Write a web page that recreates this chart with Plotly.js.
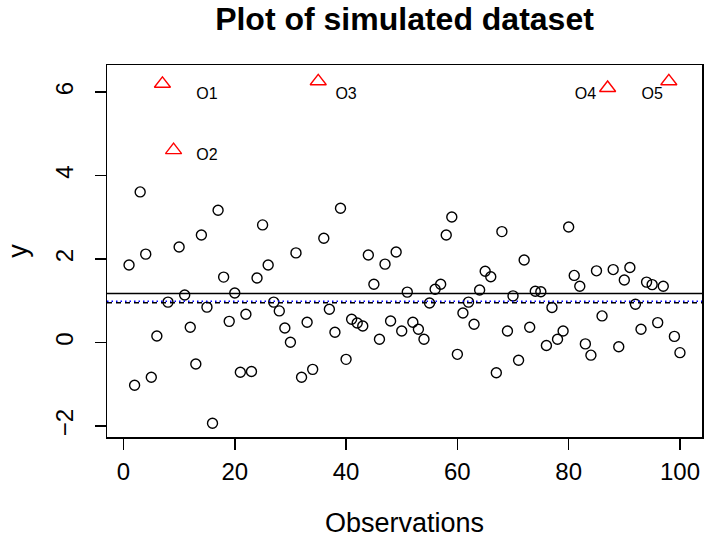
<!DOCTYPE html>
<html>
<head>
<meta charset="utf-8">
<script src="https://cdn.plot.ly/plotly-3.0.1.min.js"></script>
<style>html,body{margin:0;padding:0;background:#fff;}#chart{width:705px;height:541px;}</style>
</head>
<body>
<div id="chart"></div>
<script>
// Observation values (index 1..100)
var yValues = [
  1.86, -1.02, 3.61, 2.12, -0.83, 0.16, 6.20, 0.97, 4.61, 2.29,
  1.14, 0.37, -0.51, 2.58, 0.85, -1.93, 3.17, 1.57, 0.51, 1.19,
  -0.71, 0.68, -0.69, 1.55, 2.82, 1.86, 0.97, 0.76, 0.35, 0.01,
  2.15, -0.83, 0.49, -0.64, 6.26, 2.50, 0.80, 0.25, 3.22, -0.40,
  0.56, 0.47, 0.40, 2.10, 1.40, 0.08, 1.88, 0.52, 2.17, 0.28,
  1.21, 0.49, 0.32, 0.08, 0.95, 1.28, 1.40, 2.58, 3.01, -0.28,
  0.71, 0.97, 0.44, 1.26, 1.71, 1.58, -0.72, 2.66, 0.28, 1.12,
  -0.42, 1.98, 0.37, 1.23, 1.22, -0.07, 0.84, 0.08, 0.28, 2.77,
  1.61, 1.35, -0.03, -0.30, 1.72, 0.64, 6.10, 1.75, -0.10, 1.50,
  1.80, 0.92, 0.32, 1.45, 1.39, 0.48, 1.35, 6.26, 0.15, -0.24
];
// Outlier observation indices
var outlierIdx = [7, 9, 35, 87, 98];
// Outlier labels and their text positions
var labelText = ["O1", "O2", "O3", "O4", "O5"];
var labelX = [15, 15, 40, 83, 95];
var labelY = [5.92, 4.46, 5.92, 5.92, 5.92];
// Horizontal reference lines: solid, dotted (blue), dashed
var refLines = [1.18, 0.99, 0.955];
var xTicks = [0, 20, 40, 60, 80, 100];
var yTicks = [-2, 0, 2, 4, 6];

var obsX = [], obsY = [], outX = [], outY = [];
for (var i = 0; i < yValues.length; i++) {
  var idx = i + 1;
  if (outlierIdx.indexOf(idx) >= 0) { outX.push(idx); outY.push(yValues[i]); }
  else { obsX.push(idx); obsY.push(yValues[i]); }
}

var FONT = "Liberation Sans, Arial, Helvetica, sans-serif";

var traces = [
  {
    x: obsX, y: obsY, type: "scatter", mode: "markers",
    marker: {symbol: "circle-open", size: 10, color: "#000", line: {width: 1.4, color: "#000"}},
    hoverinfo: "x+y", showlegend: false
  },
  {
    x: outX, y: outY, type: "scatter", mode: "markers",
    marker: {symbol: "triangle-up-open", size: 14, color: "#FF0000", line: {width: 1.4, color: "#FF0000"}},
    hoverinfo: "x+y", showlegend: false
  },
  {
    x: labelX, y: labelY, text: labelText, type: "scatter", mode: "text",
    textposition: "middle center",
    textfont: {family: FONT, size: 16, color: "#000"},
    hoverinfo: "skip", showlegend: false
  }
];

var lineStyles = [
  {color: "#000", width: 1.5, dash: "solid"},
  {color: "#0000FF", width: 1.5, dash: "1.5px,3px"},
  {color: "#000", width: 1.5, dash: "5px,4px"}
];
var shapes = refLines.map(function (v, k) {
  return {type: "line", xref: "paper", x0: 0, x1: 1, yref: "y", y0: v, y1: v, line: lineStyles[k], layer: "above"};
});

var layout = {
  width: 705, height: 541,
  margin: {l: 107, r: 3, t: 65, b: 104, pad: 0},
  paper_bgcolor: "#fff", plot_bgcolor: "#fff",
  font: {family: FONT, color: "#000"},
  title: {
    text: "<b>Plot of simulated dataset</b>",
    font: {family: FONT, size: 32, color: "#000"},
    xref: "paper", x: 0.5, xanchor: "center",
    yref: "container", y: 1 - 19 / 541, yanchor: "middle"
  },
  xaxis: {
    range: [-2.96, 103.96], tickmode: "array", tickvals: xTicks,
    ticks: "outside", ticklen: 11, tickwidth: 1.5, tickcolor: "#000",
    showline: true, mirror: true, linecolor: "#000", linewidth: 1.5,
    showgrid: false, zeroline: false,
    tickfont: {family: FONT, size: 24, color: "#000"},
    ticklabelstandoff: 2,
    title: {text: "Observations", font: {family: FONT, size: 27, color: "#000"}, standoff: 29}
  },
  yaxis: {
    range: [-2.26, 6.65], tickmode: "array", tickvals: yTicks,
    ticks: "outside", ticklen: 11, tickwidth: 1.5, tickcolor: "#000",
    showline: true, mirror: true, linecolor: "#000", linewidth: 1.5,
    showgrid: false, zeroline: false, tickangle: -90,
    tickfont: {family: FONT, size: 24, color: "#000"},
    ticklabelstandoff: 12,
    title: {text: "y", font: {family: FONT, size: 27, color: "#000"}, standoff: 15}
  },
  shapes: shapes,
  showlegend: false
};

Plotly.newPlot("chart", traces, layout, {displayModeBar: false, staticPlot: true});
</script>
</body>
</html>
